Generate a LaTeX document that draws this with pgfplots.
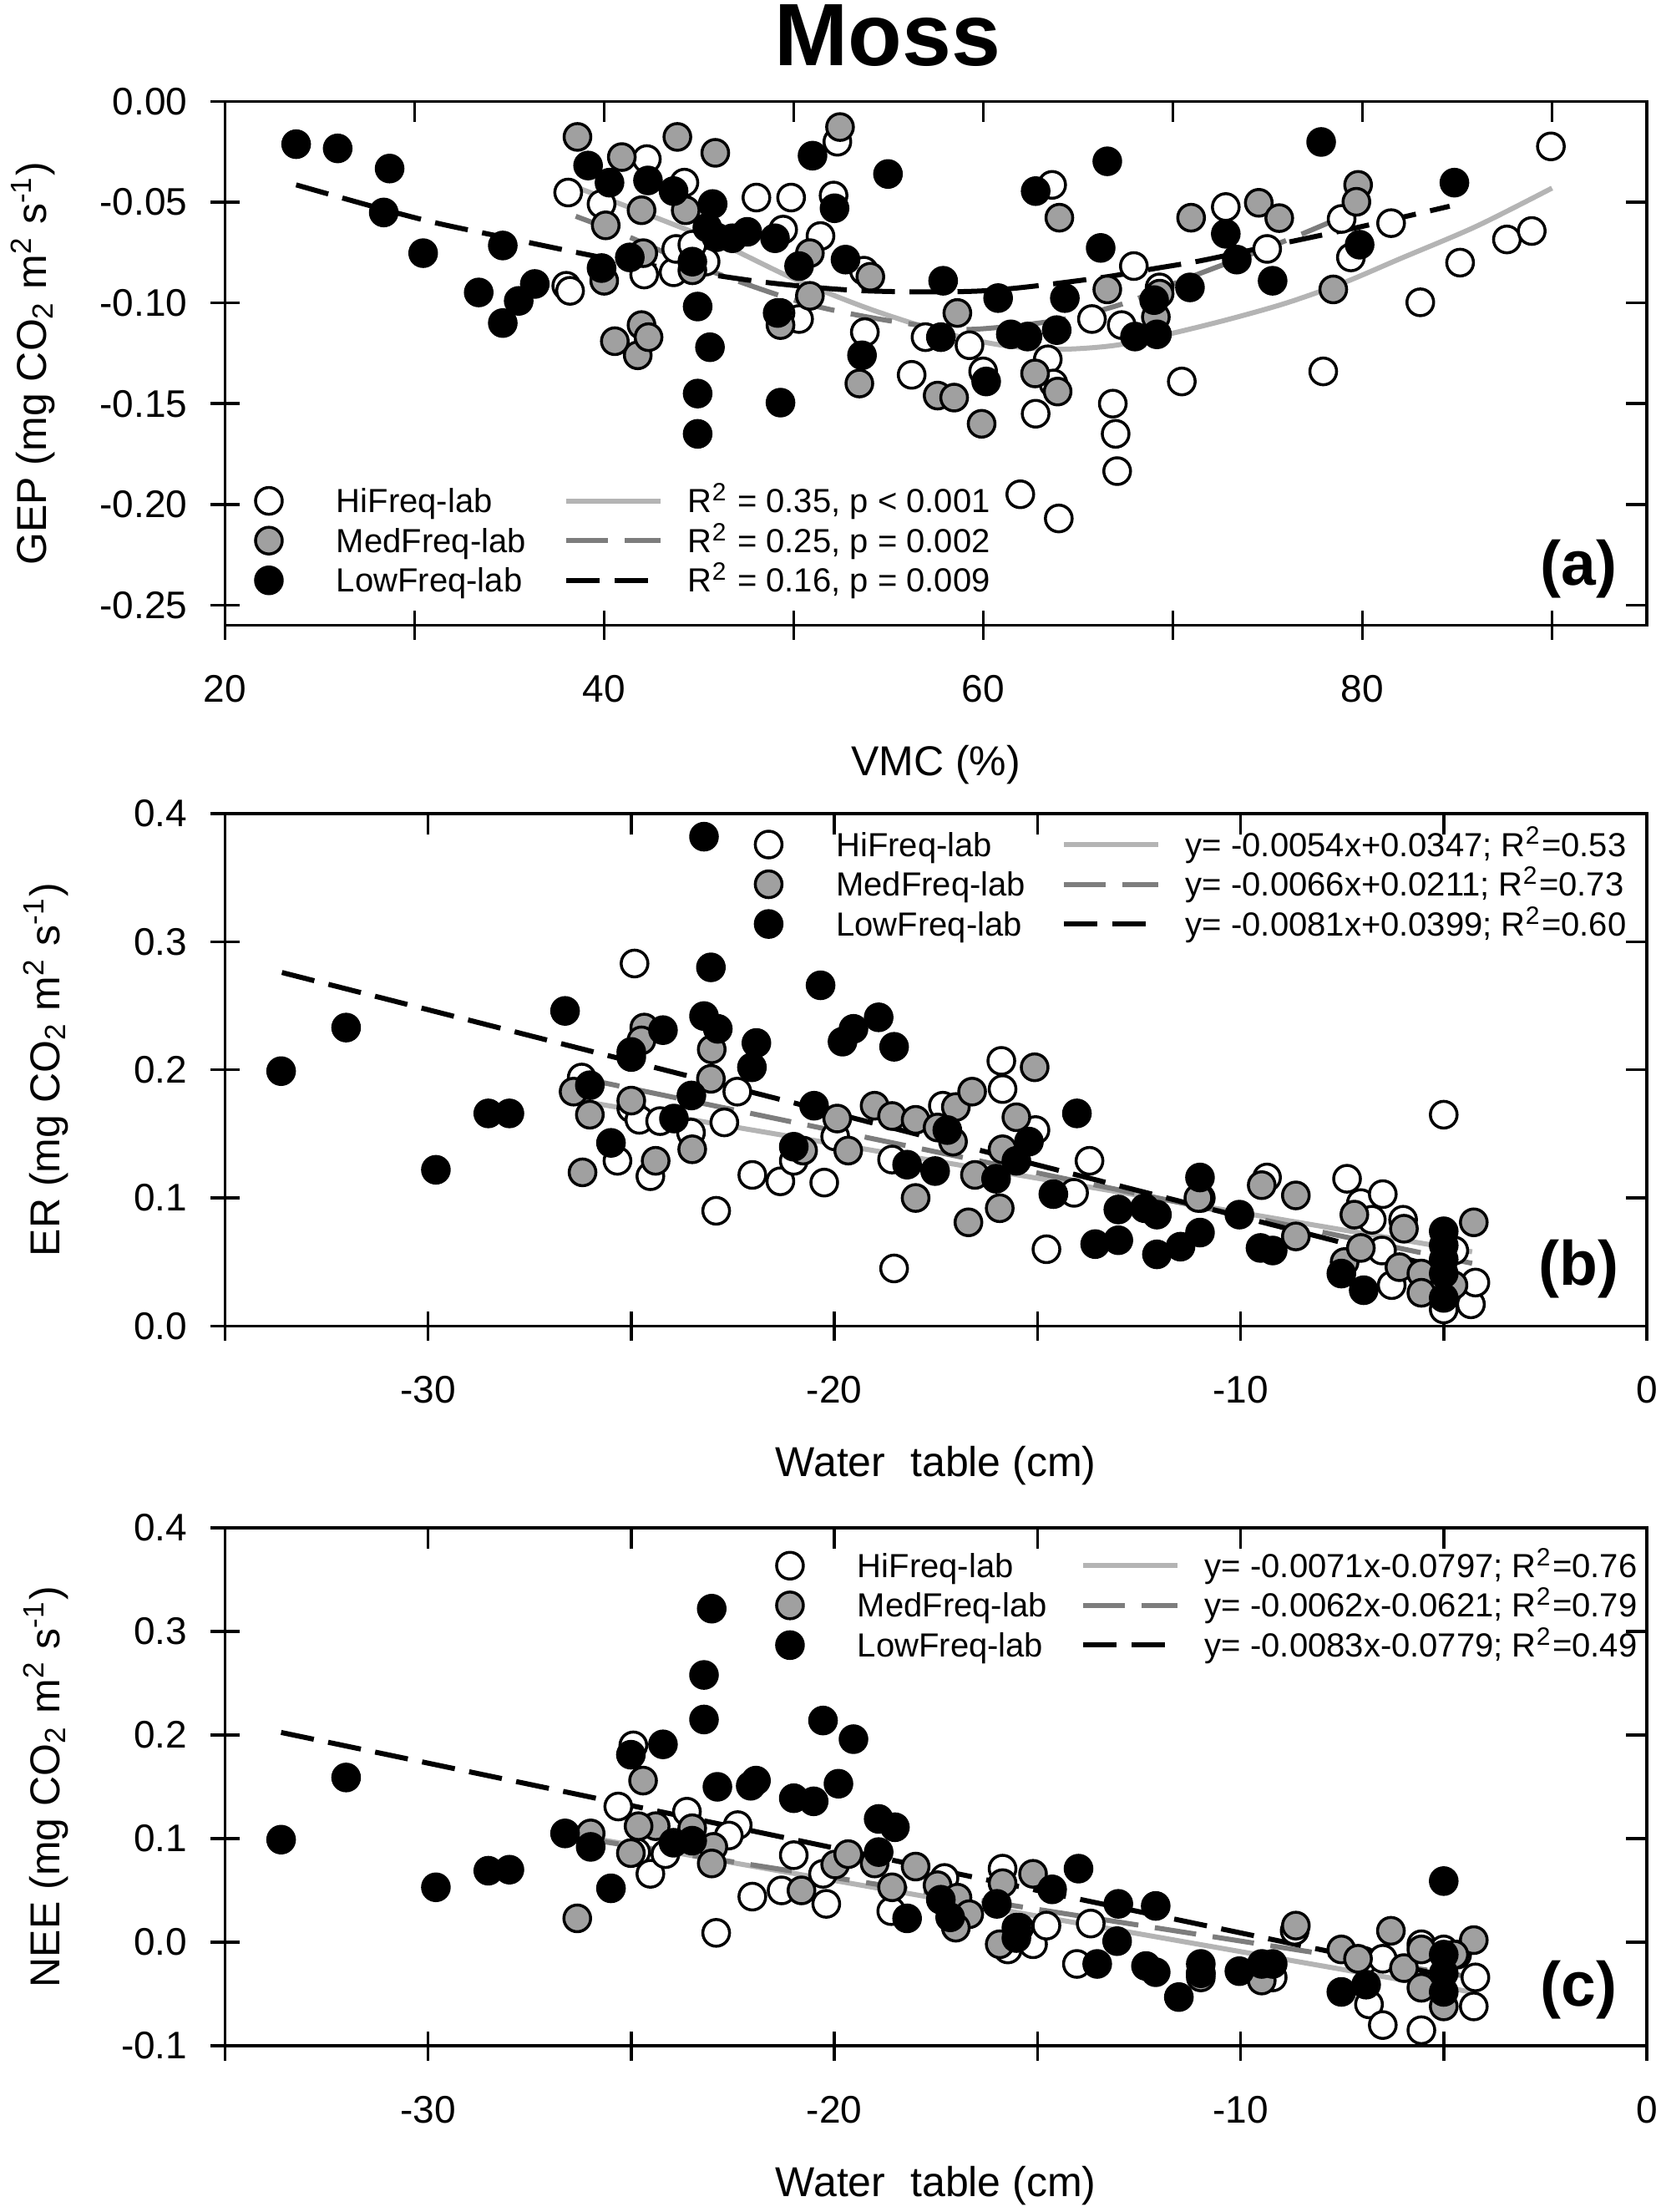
\documentclass[border=0pt]{standalone}
\usepackage{fontspec}
\setmainfont{Liberation Sans}
\usepackage{pgfplots}
\pgfplotsset{compat=1.18}
\definecolor{medgray}{RGB}{160,160,160}
\definecolor{hiline}{RGB}{180,180,180}
\definecolor{medline}{RGB}{125,125,125}
\pgfplotsset{
  panel/.style={
    scale only axis, width=340.5pt,
    axis line style={line width=0.7pt},
    every tick/.style={line width=0.7pt, black},
    major tick length=7pt,
    tick align=center,
    xtick pos=left, ytick pos=left,
    tick label style={font=\fontsize{9.2}{10}\selectfont},
    /pgf/number format/assume math mode=true,
    xticklabel shift=5pt, yticklabel shift=2pt,
    label style={font=\fontsize{11}{13}\selectfont},
    every axis x label/.style={at={(axis description cs:0.5,0)}, anchor=center, yshift=-33.5pt},
    legend cell align=left,
    legend style={draw=none, fill=none, inner sep=0pt, outer sep=0pt, column sep=0pt, row sep=1pt,
      font=\fontsize{8}{9.5}\selectfont, nodes={inner sep=0pt, anchor=base west}},
    clip=false,
  },
  frame/.style={scale only axis, width=340.5pt, axis line style={line width=0.7pt},
    every tick/.style={line width=0.7pt, black}, major tick length=5pt, tick align=inside,
    xtick pos=right, ytick pos=right, xticklabels={}, yticklabels={}},
  legmark/.style={legend image code/.code={\draw[##1] plot coordinates {(0pt,2.8pt)}; \path (-4pt,2.8pt) (16pt,2.8pt);}},
  legline/.style={legend image code/.code={\draw[##1] (0pt,2.8pt) -- (22.5pt,2.8pt); \path (28.5pt,2.8pt);}},
  hi/.style={only marks, mark=*, mark size=3.2pt, mark options={draw=black, fill=white, line width=0.7pt, solid}},
  med/.style={only marks, mark=*, mark size=3.2pt, mark options={draw=black, fill=medgray, line width=0.7pt, solid}},
  lo/.style={only marks, mark=*, mark size=3.2pt, mark options={draw=black, fill=black, line width=0.7pt, solid}},
  hil/.style={line width=1.2pt, color=hiline, solid, mark=none},
  medl/.style={line width=1.2pt, color=medline, dash pattern=on 10pt off 4pt, mark=none},
  lol/.style={line width=1.2pt, color=black, dash pattern=on 8pt off 3.5pt, mark=none},
}
\begin{document}
\begin{tikzpicture}
\node[anchor=north, inner sep=0pt, font=\bfseries\fontsize{21.2}{24}\selectfont] at (212.6pt,528.6pt) {Moss};

% ---------------- panel (a)
\begin{axis}[panel, at={(53.9pt,379.9pt)}, anchor=south west, height=125.4pt,
  xmin=20, xmax=95, ymin=-0.26, ymax=0,
  xtick={20,30,40,50,60,70,80,90}, xticklabels={20,,40,,60,,80,},
  ytick={-0.25,-0.2,-0.15,-0.1,-0.05,0}, yticklabels={-0.25,-0.20,-0.15,-0.10,-0.05,0.00},
  xlabel={VMC (\%)},
  ylabel={GEP (mg CO\textsubscript{2} m\textsuperscript{2} s\textsuperscript{-1})},
  every axis y label/.style={at={(axis description cs:-0.135,0.5)}, rotate=90, anchor=center},
  legend columns=2,
  legend style={at={(axis description cs:0.0185,0.271)}, anchor=north west}]
\addplot[hi, forget plot] coordinates {(38.1,-0.0452) (38.0,-0.0915) (38.2,-0.094) (39.86,-0.0509) (42.25,-0.0286) (44.23,-0.0403) (42.11,-0.0859) (43.66,-0.0848) (43.8,-0.0732) (45.35,-0.0795) (44.65,-0.0711) (48.03,-0.0477) (49.86,-0.0477) (49.44,-0.0636) (51.41,-0.0668) (50.28,-0.108) (52.1,-0.0467) (52.3,-0.020) (53.7,-0.084) (53.75,-0.1145) (56.22,-0.1357) (56.95,-0.117) (59.27,-0.121) (59.99,-0.134) (62.76,-0.155) (63.63,-0.0414) (63.4,-0.128) (63.7,-0.140) (65.73,-0.108) (67.3,-0.111) (66.83,-0.150) (66.98,-0.165) (67.06,-0.1835) (61.95,-0.195) (63.98,-0.207) (67.94,-0.0817) (69.3,-0.0923) (70.47,-0.139) (72.79,-0.0524) (74.97,-0.0732) (77.93,-0.134) (78.9,-0.0583) (79.39,-0.0774) (81.51,-0.0604) (83.05,-0.0997) (85.15,-0.080) (87.62,-0.0685) (88.93,-0.0643) (89.94,-0.0223)};
\addplot[med, forget plot] coordinates {(38.59,-0.0176) (40.93,-0.0276) (43.86,-0.0176) (45.86,-0.0255) (40.08,-0.0615) (41.97,-0.054) (44.3,-0.054) (40.0,-0.089) (40.56,-0.119) (41.97,-0.111) (41.77,-0.126) (42.34,-0.117) (44.65,-0.0838) (42.06,-0.0753) (50.85,-0.0753) (49.3,-0.105) (49.3,-0.111) (50.85,-0.0965) (52.44,-0.0127) (54.04,-0.087) (53.46,-0.140) (58.63,-0.105) (57.59,-0.146) (58.46,-0.147) (59.91,-0.160) (64.01,-0.0577) (66.54,-0.0933) (62.73,-0.135) (63.92,-0.144) (69.3,-0.0954) (69.1,-0.107) (70.96,-0.0577) (74.53,-0.0503) (75.61,-0.0579) (79.77,-0.0414) (79.68,-0.0498) (78.46,-0.0933)};
\addplot[lo, forget plot] coordinates {(23.75,-0.0212) (25.94,-0.0233) (28.68,-0.0333) (28.37,-0.0551) (30.45,-0.0753) (33.38,-0.0948) (34.65,-0.110) (34.65,-0.0715) (35.49,-0.099) (36.34,-0.0906) (39.15,-0.0318) (40.28,-0.0403) (39.86,-0.0827) (41.35,-0.0774) (42.31,-0.0392) (43.66,-0.0445) (44.65,-0.0795) (44.93,-0.1018) (45.58,-0.122) (44.93,-0.145) (44.93,-0.165) (45.72,-0.0509) (45.44,-0.0626) (45.92,-0.0674) (46.76,-0.0679) (47.55,-0.0647) (49.01,-0.0679) (49.3,-0.1495) (49.15,-0.105) (50.28,-0.0817) (50.99,-0.0269) (52.15,-0.053) (54.97,-0.036) (52.73,-0.0785) (53.6,-0.126) (62.76,-0.0445) (66.54,-0.0297) (66.19,-0.0727) (57.88,-0.089) (60.78,-0.0976) (64.3,-0.0976) (57.76,-0.117) (60.15,-0.139) (61.45,-0.1156) (62.33,-0.1167) (63.87,-0.1135) (69.01,-0.0986) (68.0,-0.1167) (69.16,-0.1156) (70.9,-0.0923) (72.79,-0.0657) (73.37,-0.0785) (75.26,-0.089) (77.82,-0.0201) (79.85,-0.0711) (84.85,-0.0403)};
\addplot[hil, smooth, forget plot] coordinates {(37.8,-0.040) (42,-0.055) (46,-0.070) (50,-0.088) (54,-0.103) (58,-0.115) (61,-0.121) (64,-0.123) (67,-0.121) (70,-0.115) (73,-0.108) (76,-0.100) (79,-0.090) (82,-0.078) (86,-0.062) (90,-0.043)};
\addplot[medl, smooth, forget plot] coordinates {(38.5,-0.057) (41,-0.066) (44.2,-0.079) (47.6,-0.091) (50.9,-0.101) (54.5,-0.108) (58.4,-0.113) (61,-0.112) (64.3,-0.108) (67.5,-0.100) (70.7,-0.088) (73.5,-0.078) (76.5,-0.067) (80,-0.053)};
\addplot[lol, smooth, forget plot] coordinates {(23.75,-0.0414) (27.75,-0.052) (31,-0.060) (34.5,-0.067) (39.86,-0.0774) (43.6,-0.083) (48.7,-0.090) (53.8,-0.094) (60,-0.094) (65.8,-0.088) (69,-0.083) (71.5,-0.079) (75,-0.072) (80,-0.062) (84.6,-0.052)};
\addlegendimage{hi, legmark}\addlegendentry{\makebox[54.5pt][l]{HiFreq-lab}}
\addlegendimage{hil, legline}\addlegendentry{R\textsuperscript{2} = 0.35, p < 0.001}
\addlegendimage{med, legmark}\addlegendentry{\makebox[54.5pt][l]{MedFreq-lab}}
\addlegendimage{medl, legline}\addlegendentry{R\textsuperscript{2} = 0.25, p = 0.002}
\addlegendimage{lo, legmark}\addlegendentry{\makebox[54.5pt][l]{LowFreq-lab}}
\addlegendimage{lol, legline}\addlegendentry{R\textsuperscript{2} = 0.16, p = 0.009}
\node[font=\bfseries\fontsize{15}{17}\selectfont] at (axis description cs:0.952,0.107) {(a)};
\end{axis}
\begin{axis}[frame, at={(53.9pt,379.9pt)}, anchor=south west, height=125.4pt,
  xmin=20, xmax=95, ymin=-0.26, ymax=0,
  xtick={20,30,40,50,60,70,80,90}, ytick={-0.25,-0.2,-0.15,-0.1,-0.05,0}]
\end{axis}

% ---------------- panel (b)
\begin{axis}[panel, at={(53.9pt,212.1pt)}, anchor=south west, height=122.7pt,
  xmin=-35, xmax=0, ymin=0, ymax=0.4,
  xtick={-35,-30,-25,-20,-15,-10,-5,0}, xticklabels={,-30,,-20,,-10,,0},
  ytick={0,0.1,0.2,0.3,0.4}, yticklabels={0.0,0.1,0.2,0.3,0.4},
  xlabel={Water\hspace{6pt}table (cm)},
  ylabel={ER (mg CO\textsubscript{2} m\textsuperscript{2} s\textsuperscript{-1})},
  every axis y label/.style={at={(axis description cs:-0.126,0.5)}, rotate=90, anchor=center},
  legend columns=2,
  legend style={at={(axis description cs:0.370,0.974)}, anchor=north west}]
\addplot[hi, forget plot] coordinates {(-24.92,0.283) (-26.22,0.194) (-25.34,0.129) (-24.53,0.117) (-25.0,0.170) (-24.8,0.161) (-24.29,0.160) (-23.53,0.151) (-22.91,0.090) (-22.71,0.159) (-22.39,0.183) (-22.02,0.118) (-21.33,0.113) (-21.0,0.129) (-20.25,0.112) (-19.98,0.148) (-18.58,0.130) (-15.89,0.207) (-15.86,0.185) (-17.33,0.172) (-15.05,0.153) (-14.78,0.060) (-18.53,0.045) (-13.72,0.129) (-14.1,0.104) (-10.98,0.100) (-9.35,0.116) (-7.38,0.115) (-5.0,0.165) (-7.04,0.096) (-6.5,0.103) (-6.77,0.083) (-6.52,0.059) (-6.0,0.083) (-6.28,0.032) (-5.0,0.013) (-4.33,0.017) (-4.22,0.034) (-4.74,0.059)};
\addplot[med, forget plot] coordinates {(-24.68,0.233) (-24.75,0.223) (-23.02,0.216) (-23.04,0.193) (-26.42,0.183) (-26.02,0.165) (-26.2,0.120) (-25.0,0.176) (-24.4,0.129) (-23.5,0.138) (-20.77,0.137) (-19.93,0.162) (-19.01,0.172) (-18.58,0.164) (-18.0,0.161) (-19.66,0.137) (-18.0,0.100) (-17.01,0.171) (-16.61,0.183) (-17.46,0.155) (-17.08,0.144) (-16.54,0.118) (-16.70,0.081) (-15.93,0.092) (-15.86,0.138) (-15.52,0.163) (-15.07,0.202) (-11.04,0.100) (-9.48,0.110) (-8.64,0.102) (-8.64,0.070) (-7.2,0.087) (-7.44,0.050) (-7.04,0.061) (-5.98,0.076) (-6.09,0.046) (-5.55,0.041) (-5.55,0.026) (-4.76,0.032) (-4.26,0.081)};
\addplot[lo, forget plot] coordinates {(-33.62,0.199) (-32.02,0.233) (-29.81,0.122) (-28.52,0.166) (-28.0,0.166) (-26.63,0.246) (-26.02,0.188) (-25.5,0.143) (-25.0,0.214) (-25.0,0.210) (-24.22,0.231) (-23.95,0.162) (-23.52,0.180) (-23.21,0.382) (-23.21,0.242) (-23.04,0.280) (-22.87,0.232) (-21.92,0.221) (-22.03,0.202) (-21.0,0.140) (-20.5,0.172) (-20.34,0.266) (-19.80,0.222) (-19.53,0.232) (-18.91,0.241) (-18.53,0.218) (-17.22,0.153) (-18.21,0.126) (-17.52,0.121) (-16.02,0.115) (-15.52,0.129) (-15.21,0.144) (-14.03,0.166) (-14.61,0.103) (-13.01,0.091) (-13.58,0.064) (-13.01,0.067) (-12.36,0.092) (-12.06,0.087) (-12.06,0.056) (-11.48,0.062) (-11.0,0.073) (-11.0,0.116) (-10.03,0.087) (-9.51,0.061) (-9.21,0.059) (-7.52,0.041) (-6.97,0.028) (-5.0,0.074) (-5.0,0.063) (-5.0,0.052) (-5.0,0.041) (-5.0,0.022)};
\addplot[hil, forget plot] coordinates {(-26.3,0.176) (-4.3,0.058)};
\addplot[medl, forget plot] coordinates {(-26.3,0.194) (-4.3,0.049)};
\addplot[lol, forget plot] coordinates {(-33.6,0.276) (-5.0,0.045)};
\addlegendimage{hi, legmark}\addlegendentry{\makebox[54pt][l]{HiFreq-lab}}
\addlegendimage{hil, legline}\addlegendentry{y= -0.0054x+0.0347; R\textsuperscript{2}=0.53}
\addlegendimage{med, legmark}\addlegendentry{\makebox[54pt][l]{MedFreq-lab}}
\addlegendimage{medl, legline}\addlegendentry{y= -0.0066x+0.0211; R\textsuperscript{2}=0.73}
\addlegendimage{lo, legmark}\addlegendentry{\makebox[54pt][l]{LowFreq-lab}}
\addlegendimage{lol, legline}\addlegendentry{y= -0.0081x+0.0399; R\textsuperscript{2}=0.60}
\node[font=\bfseries\fontsize{15}{17}\selectfont] at (axis description cs:0.952,0.111) {(b)};
\end{axis}
\begin{axis}[frame, at={(53.9pt,212.1pt)}, anchor=south west, height=122.7pt,
  xmin=-35, xmax=0, ymin=0, ymax=0.4,
  xtick={-35,-30,-25,-20,-15,-10,-5,0}, ytick={0,0.1,0.2,0.3,0.4}]
\end{axis}

% ---------------- panel (c)
\begin{axis}[panel, at={(53.9pt,39.8pt)}, anchor=south west, height=124pt,
  xmin=-35, xmax=0, ymin=-0.1, ymax=0.4,
  xtick={-35,-30,-25,-20,-15,-10,-5,0}, xticklabels={,-30,,-20,,-10,,0},
  ytick={-0.1,0,0.1,0.2,0.3,0.4}, yticklabels={-0.1,0.0,0.1,0.2,0.3,0.4},
  xlabel={Water\hspace{6pt}table (cm)},
  ylabel={NEE (mg CO\textsubscript{2} m\textsuperscript{2} s\textsuperscript{-1})},
  every axis y label/.style={at={(axis description cs:-0.126,0.5)}, rotate=90, anchor=center},
  legend columns=2,
  legend style={at={(axis description cs:0.385,0.961)}, anchor=north west}]
\addplot[hi, forget plot] coordinates {(-24.95,0.190) (-25.32,0.131) (-23.63,0.126) (-22.38,0.113) (-22.6,0.103) (-24.88,0.087) (-24.53,0.066) (-24.16,0.085) (-22.91,0.009) (-22.02,0.044) (-21.3,0.050) (-21.0,0.084) (-20.28,0.066) (-20.2,0.037) (-18.6,0.030) (-15.86,0.071) (-17.29,0.062) (-15.73,-0.007) (-15.11,-0.002) (-14.78,0.016) (-14.03,-0.021) (-13.69,0.018) (-10.98,-0.030) (-9.21,-0.034) (-8.67,0.011) (-6.97,-0.018) (-6.84,-0.060) (-6.5,-0.080) (-5.55,-0.085) (-6.5,-0.016) (-5.55,-0.002) (-5.0,-0.007) (-4.22,-0.034) (-4.26,-0.062) (-4.67,-0.012)};
\addplot[med, forget plot] coordinates {(-24.71,0.156) (-24.4,0.112) (-24.82,0.112) (-26.0,0.105) (-25.01,0.086) (-23.5,0.110) (-22.98,0.092) (-23.02,0.076) (-26.33,0.023) (-20.81,0.050) (-19.98,0.075) (-19.66,0.085) (-19.01,0.076) (-18.58,0.053) (-18.0,0.073) (-17.46,0.055) (-16.97,0.043) (-16.68,0.027) (-17.01,0.014) (-15.93,-0.002) (-15.86,0.057) (-15.11,0.066) (-15.45,0.014) (-10.98,-0.034) (-9.48,-0.037) (-8.64,0.016) (-7.52,-0.007) (-7.11,-0.016) (-6.3,0.011) (-5.98,-0.025) (-5.55,-0.007) (-5.55,-0.044) (-5.0,-0.062) (-4.26,0.002) (-4.74,-0.012)};
\addplot[lo, forget plot] coordinates {(-33.62,0.099) (-32.02,0.159) (-29.81,0.053) (-28.52,0.069) (-28.0,0.070) (-26.63,0.105) (-26.0,0.092) (-25.5,0.052) (-25.01,0.181) (-24.22,0.191) (-23.96,0.096) (-23.5,0.098) (-23.02,0.322) (-23.21,0.258) (-23.21,0.215) (-22.88,0.150) (-21.93,0.156) (-22.06,0.151) (-21.0,0.139) (-20.51,0.136) (-20.28,0.214) (-19.9,0.153) (-19.53,0.196) (-18.91,0.119) (-18.51,0.111) (-18.91,0.087) (-18.21,0.023) (-17.38,0.041) (-17.15,0.024) (-16.0,0.037) (-15.52,0.014) (-15.52,0.004) (-14.64,0.051) (-13.99,0.071) (-13.01,0.037) (-13.04,0.001) (-13.53,-0.021) (-12.33,-0.023) (-12.09,-0.029) (-12.09,0.035) (-11.52,-0.053) (-10.98,-0.021) (-10.98,-0.030) (-10.03,-0.028) (-9.48,-0.021) (-9.21,-0.021) (-7.52,-0.048) (-6.91,-0.041) (-5.0,0.059) (-5.0,-0.012) (-5.0,-0.030) (-5.0,-0.048)};
\addplot[hil, forget plot] coordinates {(-26.33,0.103) (-4.19,-0.049)};
\addplot[medl, forget plot] coordinates {(-26.33,0.101) (-4.26,-0.034)};
\addplot[lol, forget plot] coordinates {(-33.62,0.2025) (-5.0,-0.032)};
\addlegendimage{hi, legmark}\addlegendentry{\makebox[53.5pt][l]{HiFreq-lab}}
\addlegendimage{hil, legline}\addlegendentry{y= -0.0071x-0.0797; R\textsuperscript{2}=0.76}
\addlegendimage{med, legmark}\addlegendentry{\makebox[53.5pt][l]{MedFreq-lab}}
\addlegendimage{medl, legline}\addlegendentry{y= -0.0062x-0.0621; R\textsuperscript{2}=0.79}
\addlegendimage{lo, legmark}\addlegendentry{\makebox[53.5pt][l]{LowFreq-lab}}
\addlegendimage{lol, legline}\addlegendentry{y= -0.0083x-0.0779; R\textsuperscript{2}=0.49}
\node[font=\bfseries\fontsize{15}{17}\selectfont] at (axis description cs:0.952,0.108) {(c)};
\end{axis}
\begin{axis}[frame, at={(53.9pt,39.8pt)}, anchor=south west, height=124pt,
  xmin=-35, xmax=0, ymin=-0.1, ymax=0.4,
  xtick={-35,-30,-25,-20,-15,-10,-5,0}, ytick={-0.1,0,0.1,0.2,0.3,0.4}]
\end{axis}

\pgfresetboundingbox
\path[use as bounding box] (0,0) rectangle (396.4pt,529.6pt);
\end{tikzpicture}
\end{document}
